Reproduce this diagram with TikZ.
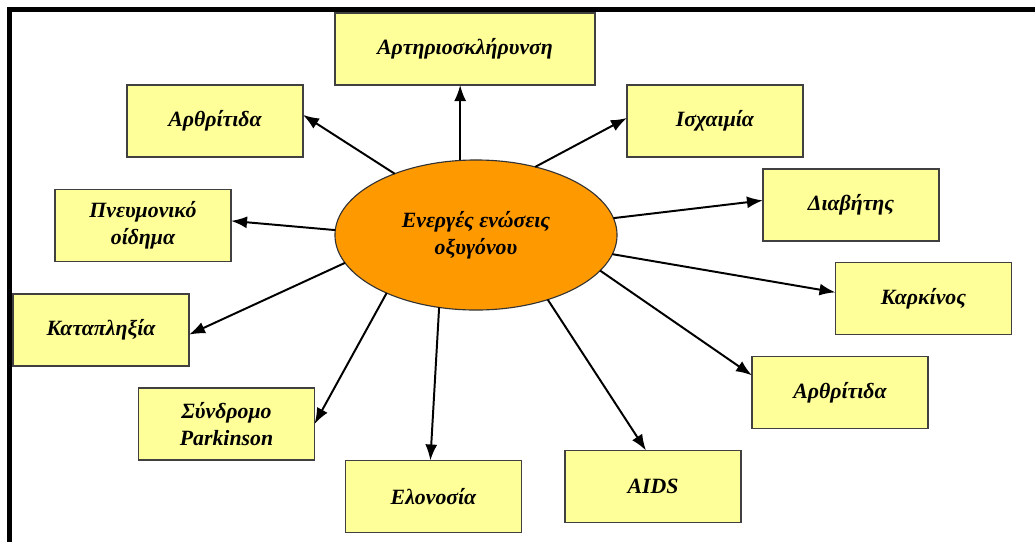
\documentclass[tikz,border=0pt]{standalone}
\usepackage{fontspec}
\setmainfont{LiberationSerif}[Extension=.ttf,UprightFont=*-Regular,BoldFont=*-Bold,
  ItalicFont=*-Italic,BoldItalicFont=*-BoldItalic]
\usepackage{xcolor}
\usepackage{tikz}
\usetikzlibrary{shapes.geometric,arrows.meta}

\definecolor{boxfill}{HTML}{FFFF99}
\definecolor{hubfill}{HTML}{FF9900}

\begin{document}
\begin{tikzpicture}[
  x=0.025cm, y=-0.025cm,
  every node/.style={font=\fontsize{15.5}{19}\selectfont\bfseries\itshape,align=center},
  box/.style={draw=black!75,line width=1pt,fill=boxfill,minimum width=4.4cm,
    minimum height=1.8cm,outer sep=0pt,inner sep=2pt},
  hub/.style={ellipse,draw=black!80,line width=0.8pt,fill=hubfill,
    minimum width=7.05cm,minimum height=3.75cm,outer sep=0pt},
  link/.style={draw,-{Latex[length=0.4cm,width=0.3cm]},line width=1.4pt}
  ]

\useasboundingbox (0,0) rectangle (1035,542);
\draw[line width=5*0.025cm] (9.5,542) -- (9.5,9.5) -- (1035,9.5);

\node[hub] (ell) at (476,235) {Ενεργές ενώσεις \\ οξυγόνου};

\node[box,minimum width=6.5cm] (arter) at (465,49) {Αρτηριοσκλήρυνση};
\node[box] (arthL) at (215,121) {Αρθρίτιδα};
\node[box] (isch)  at (715,121) {Ισχαιμία};
\node[box] (diab)  at (851,205) {Διαβήτης};
\node[box] (kark)  at (923.5,298.5) {Καρκίνος};
\node[box] (arthR) at (840,392.5) {Αρθρίτιδα};
\node[box] (aids)  at (653,486.5) {AIDS};
\node[box] (elon)  at (433.5,496.5) {Ελονοσία};
\node[box] (park)  at (226.5,424) {Σύνδρομο \\ Parkinson};
\node[box] (katap) at (101,330) {Καταπληξία};
\node[box] (pneum) at (143,225.5) {Πνευμονικό \\ οίδημα};

\draw[link] (ell.102) -- (ell.102 |- arter.south);
\draw[link] (ell.143) -- (arthL.4);
\draw[link] (ell.49)  -- (isch.178);
\draw[link] (ell.7)   -- (diab.177);
\draw[link] (ell.352) -- (kark.176);
\draw[link] (ell.344) -- (arthR.169);
\draw[link] (ell.318) -- (aids.101);
\draw[link] (ell.243) -- (elon.95);
\draw[link] (ell.213) -- (park.east);
\draw[link] (ell.192) -- (katap.357);
\draw[link] (ell.178) -- (pneum.3);

\end{tikzpicture}
\end{document}
